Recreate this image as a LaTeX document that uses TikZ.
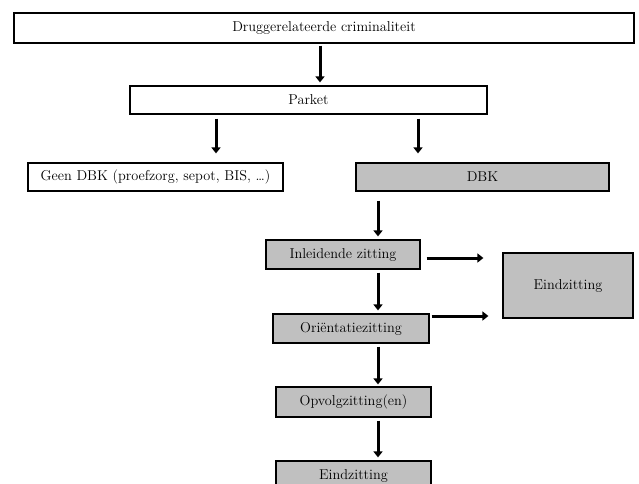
\documentclass[tikz,border=0pt]{standalone}
\usetikzlibrary{arrows.meta}
\definecolor{boxgray}{RGB}{192,192,192}
\begin{document}
\begin{tikzpicture}[x=1pt,y=-1pt,
  box/.style={draw=black, line width=1.2pt, inner sep=0pt, font=\fontsize{14.3}{16}\selectfont},
  wbox/.style={box, fill=white},
  gbox/.style={box, fill=boxgray},
  arr/.style={line width=3pt, -{Triangle[width=9pt,length=6pt]}}]
\clip (0,0) rectangle (639,483);
\fill[white] (0,0) rectangle (639,483);
\node[wbox, minimum width=620pt, minimum height=30pt] (top) at (324,28) {Druggerelateerde criminaliteit};
\node[wbox, minimum width=357pt, minimum height=28pt] (parket) at (308.5,100) {Parket};
\node[wbox, minimum width=255pt, minimum height=28pt] (geen) at (155.5,177) {Geen DBK (proefzorg, sepot, BIS, \dots)};
\node[gbox, minimum width=253pt, minimum height=28pt] (dbk) at (482.5,177) {DBK};
\node[gbox, minimum width=154pt, minimum height=29pt] (inl) at (343,254.5) {Inleidende zitting};
\node[gbox, minimum width=130pt, minimum height=65pt] (eind1) at (568,285.5) {Eindzitting};
\node[gbox, minimum width=156pt, minimum height=29pt] (ori) at (351,328.5) {Oriëntatiezitting};
\node[gbox, minimum width=155pt, minimum height=30pt] (opv) at (353.5,402) {Opvolgzitting(en)};
\node[gbox, minimum width=155pt, minimum height=30pt] (eind2) at (353.5,476) {Eindzitting};
\draw[arr, shorten <=2pt, shorten >=3pt] ([xshift=-4pt]top.south) -- ([xshift=11.5pt]parket.north);
\draw[arr, shorten <=4pt, shorten >=9pt] ([xshift=-92.5pt]parket.south) -- ([xshift=60.5pt]geen.north);
\draw[arr, shorten <=4pt, shorten >=9pt] ([xshift=109.5pt]parket.south) -- ([xshift=-64.5pt]dbk.north);
\draw[arr, shorten <=9pt, shorten >=3pt] ([xshift=-104.5pt]dbk.south) -- ([xshift=35pt]inl.north);
\draw[arr, shorten <=6pt, shorten >=19pt] ([yshift=-3.5pt]inl.east) -- ([yshift=27.5pt]eind1.west);
\draw[arr, shorten <=3pt, shorten >=3pt] ([xshift=35pt]inl.south) -- ([xshift=27pt]ori.north);
\draw[arr, shorten <=2pt, shorten >=14pt] ([yshift=12.5pt]ori.east) -- ([yshift=-30.5pt]eind1.west);
\draw[arr, shorten <=3pt, shorten >=2pt] ([xshift=27pt]ori.south) -- ([xshift=24.5pt]opv.north);
\draw[arr, shorten <=3pt, shorten >=3pt] ([xshift=24.5pt]opv.south) -- ([xshift=24.5pt]eind2.north);
\end{tikzpicture}
\end{document}
